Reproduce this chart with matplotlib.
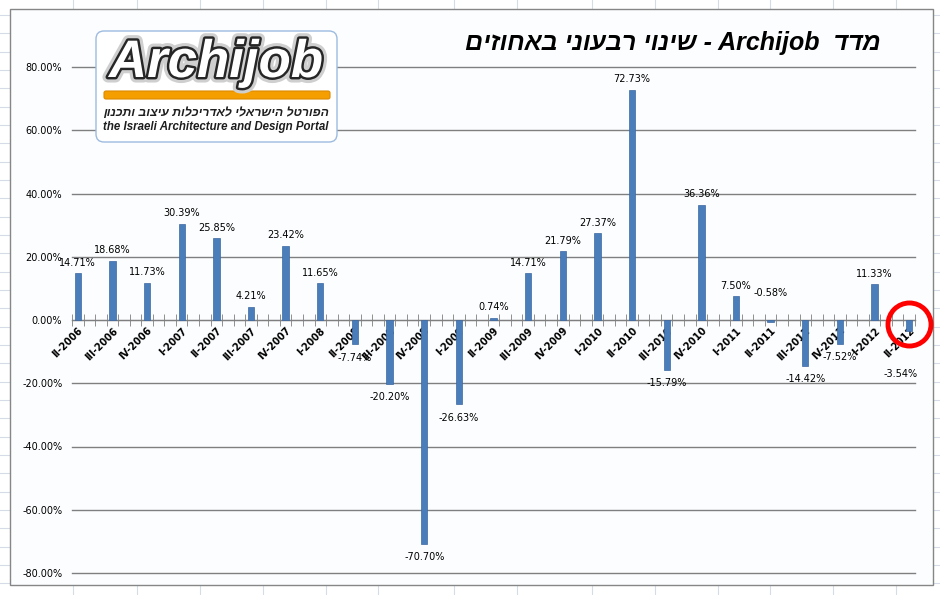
import numpy as np
import matplotlib
matplotlib.use("Agg")
import matplotlib.pyplot as plt
import matplotlib.patheffects as pe
from matplotlib.patches import Rectangle, FancyBboxPatch
from matplotlib.lines import Line2D
from matplotlib.ticker import FuncFormatter

# quarterly change of the Archijob index, in percent
quarters = ["II-2006", "III-2006", "IV-2006", "I-2007", "II-2007", "III-2007", "IV-2007",
            "I-2008", "II-2008", "III-2008", "IV-2008", "I-2009", "II-2009", "III-2009",
            "IV-2009", "I-2010", "II-2010", "III-2010", "IV-2010", "I-2011", "II-2011",
            "III-2011", "IV-2011", "I-2012", "II-2012"]
changes = [14.71, 18.68, 11.73, 30.39, 25.85, 4.21, 23.42,
           11.65, -7.74, -20.20, -70.70, -26.63, 0.74, 14.71,
           21.79, 27.37, 72.73, -15.79, 36.36, 7.50, -0.58,
           -14.42, -7.52, 11.33, -3.54]
y_ticks = [-80, -60, -40, -20, 0, 20, 40, 60, 80]

# Hebrew strings are written in visual order (matplotlib has no bidi)
title = "םיזוחאב ינועבר יוניש - Archijob  דדמ"
logo_he = "ןונכתו בוציע תולכירדאל ילארשיה לטרופה"
logo_en = "the Israeli Architecture and Design Portal"
fonts = ["Liberation Sans", "DejaVu Sans"]

W, H = 940, 595
def fx(px):
    return px / W
def fy(py):
    return 1 - py / H

fig = plt.figure(figsize=(9.4, 5.95), dpi=100)
fig.patch.set_facecolor("white")

# spreadsheet cells behind the chart
cols = [73, 137, 200, 263, 326, 378, 454, 517, 592, 655, 718, 770, 833, 896]
for c in cols:
    fig.add_artist(Line2D([fx(c), fx(c)], [0, 1], transform=fig.transFigure,
                          color="#d5dce7", lw=0.8, zorder=-3))
for r in np.arange(15, H, 18.33):
    fig.add_artist(Line2D([0, 1], [fy(r), fy(r)], transform=fig.transFigure,
                          color="#d5dce7", lw=0.8, zorder=-3))

# chart area
fig.add_artist(Rectangle((fx(10), fy(585)), fx(933) - fx(10), (585 - 9) / H,
                         transform=fig.transFigure, fc="#fcfdfe", ec="#868686",
                         lw=1, zorder=-2))

ax = fig.add_axes([fx(72), fy(573), (915 - 72) / W, (573 - 67) / H])
ax.set_zorder(1)
ax.patch.set_alpha(0)

positions = np.arange(len(quarters)) * 3
ax.bar(positions, changes, width=0.55, color="#4a7ebb", edgecolor="#3b68a0",
       lw=0.5, zorder=3)
ax.set_xlim(-0.5, positions[-1] + 0.5)
ax.set_ylim(-80, 80)

for s in ["left", "right", "top"]:
    ax.spines[s].set_visible(False)
ax.spines["bottom"].set_position(("data", 0))
ax.spines["bottom"].set_color("#7f7f7f")

ax.set_yticks(y_ticks)
ax.yaxis.set_major_formatter(FuncFormatter(lambda v, p: f"{v:.2f}%"))
ax.tick_params(axis="y", length=0, pad=7, labelsize=7)
ax.yaxis.grid(True, color="#7f7f7f", lw=1)
ax.set_axisbelow(True)
for gl in ax.get_ygridlines():
    gl.set_clip_on(False)

ax.set_xticks(np.arange(-0.5, positions[-1] + 1, 1), minor=True)
ax.tick_params(axis="x", which="minor", direction="inout", length=8, color="#7f7f7f")
ax.set_xticks(positions)
ax.set_xticklabels(quarters, rotation=45, ha="right", rotation_mode="anchor",
                   fontweight="bold", fontsize=7)
ax.tick_params(axis="x", which="major", length=0, pad=4)

# two labels were moved by hand in the original
moved = {"II-2011": (0, 21), "II-2012": (-6, -31)}
for q, p, v in zip(quarters, positions, changes):
    if q in moved:
        ax.annotate(f"{v:.2f}%", (p, v), xytext=moved[q], textcoords="offset points",
                    ha="center", va="center", fontsize=7)
    elif v >= 0:
        ax.annotate(f"{v:.2f}%", (p, v), xytext=(0, 4), textcoords="offset points",
                    ha="center", va="bottom", fontsize=7)
    else:
        ax.annotate(f"{v:.2f}%", (p, v), xytext=(0, -6), textcoords="offset points",
                    ha="center", va="top", fontsize=7)

# red circle round the latest quarter
ax.plot(positions[-1], changes[-1] / 3, marker="o", ms=31, mfc="none",
        mec="#ff0000", mew=3.5, clip_on=False, zorder=5)

fig.text(fx(881), fy(43), title, ha="right", va="center", fontsize=18,
         fontweight="bold", fontstyle="italic", family=fonts, zorder=5)

# logo box
lax = fig.add_axes([fx(95), fy(143), (338 - 95) / W, (143 - 30) / H])
lax.set_zorder(2)
lax.set_xlim(0, 243)
lax.set_ylim(113, 0)
lax.axis("off")
lax.add_patch(FancyBboxPatch((1, 1), 241, 111, boxstyle="round,pad=0,rounding_size=8",
                             fc="white", ec="#9dbbe0", lw=1))
lax.text(121, 33, "Archijob", ha="center", va="center", fontsize=38,
         fontweight="bold", fontstyle="italic", color="white", family=fonts,
         path_effects=[pe.Stroke(linewidth=8, foreground="#cfcfcf"),
                       pe.Stroke(linewidth=3.5, foreground="#262626"),
                       pe.Normal()])
lax.add_patch(FancyBboxPatch((9, 61), 226, 8, boxstyle="round,pad=0,rounding_size=2",
                             fc="#f59e00", ec="#dc8a00", lw=0.8))
lax.text(121, 83, logo_he, ha="center", va="center", fontsize=8.8,
         fontweight="bold", fontstyle="italic", color="#1e1e1e", family=fonts)
lax.text(121, 97, logo_en, ha="center", va="center", fontsize=8.3,
         fontweight="bold", fontstyle="italic", color="#1e1e1e", family=fonts)

fig.savefig("out.png", dpi=100)
